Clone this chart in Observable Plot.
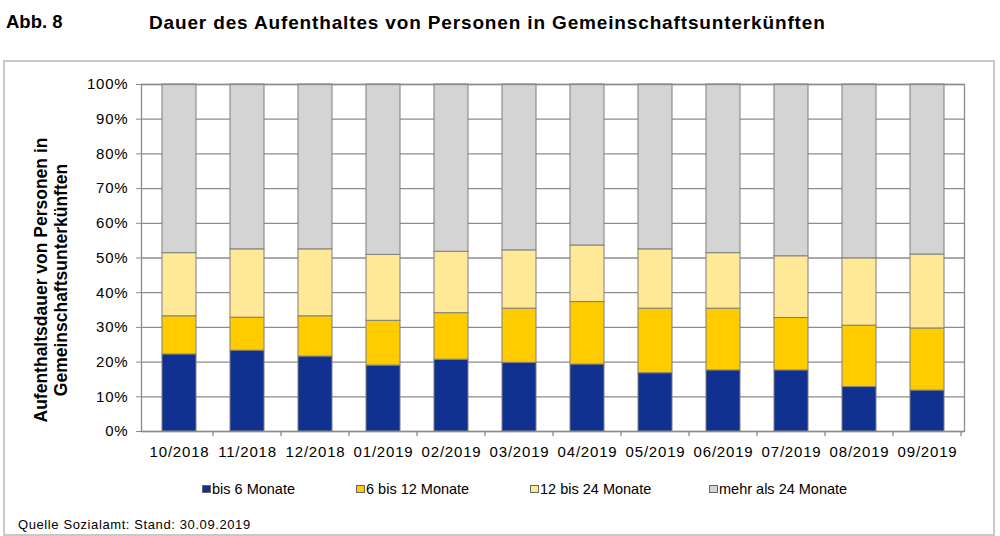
<!DOCTYPE html>
<html>
<head>
<meta charset="utf-8">
<script src="https://cdn.jsdelivr.net/npm/d3@7"></script>
<script src="https://cdn.jsdelivr.net/npm/@observablehq/plot@0.6"></script>
<style>
  html, body { margin: 0; padding: 0; background: #fff; }
  #page { position: relative; width: 1000px; height: 536px; overflow: hidden; font-family: "Liberation Sans", Arial, sans-serif; color: #000; }
  .abs { position: absolute; white-space: nowrap; line-height: 1; }
  #box { position: absolute; left: 3px; top: 60px; width: 988px; height: 472px; border: 2px solid #c9c9c9; }
  #chart { position: absolute; left: 0; top: 60px; }
  .sw { position: absolute; width: 7px; height: 6px; border: 1px solid #666; }
</style>
</head>
<body>
<div id="page">
  <div id="box"></div>
  <div class="abs" id="abb" style="left:6px; top:13px; font-size:18.5px; font-weight:bold;">Abb. 8</div>
  <div class="abs" id="title" style="left:149px; top:13px; font-size:19px; font-weight:bold; letter-spacing:0.85px;">Dauer des Aufenthaltes von Personen in Gemeinschaftsunterkünften</div>
  <div id="chart"></div>
  <div id="legend"></div>
  <div class="abs" id="caption" style="left:18px; top:518px; font-size:13px; letter-spacing:0.6px;">Quelle Sozialamt: Stand: 30.09.2019</div>
</div>
<script>
// ---- data ----
const months = ["10/2018", "11/2018", "12/2018", "01/2019", "02/2019", "03/2019", "04/2019", "05/2019", "06/2019", "07/2019", "08/2019", "09/2019"];
const seriesNames = ["bis 6 Monate", "6 bis 12 Monate", "12 bis 24 Monate", "mehr als 24 Monate"];
const bis6 = [22.2, 23.3, 21.6, 19.0, 20.7, 19.8, 19.3, 16.8, 17.6, 17.6, 12.8, 11.8];
const bis12 = [11.0, 9.5, 11.6, 12.9, 13.4, 15.6, 18.0, 18.6, 17.8, 15.1, 17.7, 17.9];
const bis24 = [18.2, 19.7, 19.3, 19.0, 17.7, 16.8, 16.3, 17.1, 16.0, 17.8, 19.4, 21.3];
const mehr24 = [48.6, 47.5, 47.5, 49.1, 48.2, 47.8, 46.4, 47.5, 48.6, 49.5, 50.1, 49.0];
const yTicks = [0, 10, 20, 30, 40, 50, 60, 70, 80, 90, 100];
const yLabel = "Aufenthaltsdauer von Personen in\nGemeinschaftsunterkünften";
const colors = ["#10318f", "#ffcc00", "#ffe896", "#d4d4d4"];

const seriesValues = [bis6, bis12, bis24, mehr24];
const data = [];
seriesNames.forEach((s, si) => months.forEach((m, i) => data.push({month: m, series: s, value: seriesValues[si][i]})));

// boundary ticks below the x axis (between categories)
function bandTicks(index, scales, values, dimensions) {
  const x = scales.x;
  const n = months.length;
  const range = dimensions.width - dimensions.marginLeft - dimensions.marginRight;
  const step = x.step ? x.step() : range / n;
  const bw = x.bandwidth ? x.bandwidth() : step / 2;
  const y0 = dimensions.height - dimensions.marginBottom;
  const g = d3.create("svg:g").attr("aria-label", "band ticks").attr("stroke", "#8c8c8c").attr("stroke-width", 1.3);
  const start = x(months[0]) - (step - bw) / 2;
  for (let i = 1; i <= n; i++) {
    const bx = start + i * step;
    g.append("line").attr("x1", bx).attr("x2", bx).attr("y1", y0).attr("y2", y0 + 5);
  }
  return g.node();
}

const plot = Plot.plot({
  width: 1000,
  height: 410,
  marginTop: 24,
  marginBottom: 39,
  marginLeft: 141,
  marginRight: 36,
  style: {background: "transparent", fontFamily: "'Liberation Sans', Arial, sans-serif", color: "#000", overflow: "visible"},
  x: {domain: months, paddingInner: 0.5, paddingOuter: 0.25, label: null},
  y: {domain: [0, 100], label: null},
  color: {domain: seriesNames, range: colors},
  marks: [
    Plot.gridY(yTicks, {stroke: "#8c8c8c", strokeOpacity: 1, strokeWidth: 1.3}),
    Plot.barY(data, {x: "month", y: "value", fill: "series", stroke: "#7f7f7f", strokeWidth: 1}),
    Plot.frame({stroke: "#8c8c8c", strokeWidth: 1.3}),
    Plot.axisY(yTicks, {tickFormat: d => d + "%", tickSize: 5, tickPadding: 8, fontSize: 15, stroke: "#8c8c8c", fill: "#000", label: null}),
    Plot.axisX({tickSize: 0, tickPadding: 15, fontSize: 15, fill: "#000", label: null}),
    bandTicks,
    Plot.text([yLabel], {frameAnchor: "left", textAnchor: "middle", lineAnchor: "middle", rotate: -90, dx: -91, dy: 22, fontSize: 17.5, fontWeight: "bold", lineHeight: 1.18, fill: "#000", ariaLabel: "y label"})
  ]
});
document.getElementById("chart").appendChild(plot);
d3.select(plot).selectAll('g[aria-label="y-axis tick label"], g[aria-label="x-axis tick label"]').style("letter-spacing", "0.8px");
d3.select(plot).selectAll('g[aria-label="y label"]').style("letter-spacing", "1px");

// legend
const legendX = [202, 356, 530, 709];
const leg = document.getElementById("legend");
seriesNames.forEach((s, i) => {
  const sw = document.createElement("div");
  sw.className = "sw";
  sw.style.left = legendX[i] + "px";
  sw.style.top = "485px";
  sw.style.background = colors[i];
  leg.appendChild(sw);
  const t = document.createElement("div");
  t.className = "abs";
  t.style.left = (legendX[i] + 10) + "px";
  t.style.top = "482px";
  t.style.fontSize = "14.5px";
  t.textContent = s;
  leg.appendChild(t);
});
</script>
</body>
</html>
